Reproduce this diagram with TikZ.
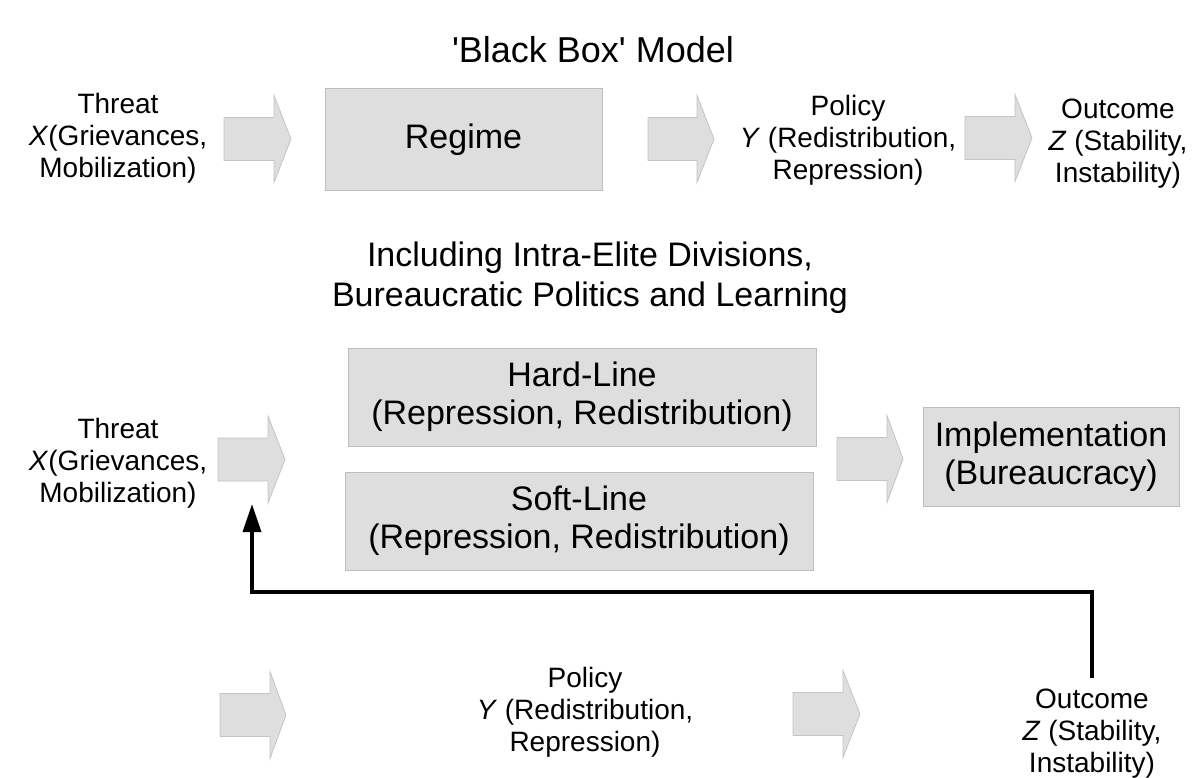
\documentclass[tikz,border=0pt]{standalone}
\usepackage{fontspec}
\setmainfont{Liberation Sans}[Ligatures=TeXOff]
\usetikzlibrary{arrows.meta}
\definecolor{boxfill}{HTML}{DEDEDE}
\definecolor{boxline}{HTML}{BDBDBD}
\definecolor{arrline}{HTML}{C4C4C4}
\newcommand\blockarrow[4]{%
  \draw[barrow] (#1,#4-21.5) -- (#2,#4-21.5) -- (#2,#4-43.5) -- (#3,#4)
    -- (#2,#4+43.5) -- (#2,#4+21.5) -- (#1,#4+21.5) -- cycle;}
\begin{document}
\begin{tikzpicture}[x=1pt,y=-1pt,
  box/.style={draw=boxline, fill=boxfill, line width=1pt, inner sep=0pt,
    align=center, font=\fontsize{34}{38}\selectfont},
  lbl/.style={inner sep=0pt, align=center, font=\fontsize{28}{32}\selectfont},
  ttl/.style={inner sep=0pt, align=center, font=\fontsize{34}{40}\selectfont},
  barrow/.style={draw=arrline, fill=boxfill, line width=0.8pt},
  feedback/.style={line width=3.5pt, -{Triangle[length=28pt,width=18pt]}}]
\useasboundingbox (0,0) rectangle (1196,778);
% titles
\node[ttl, font=\fontsize{36}{40}\selectfont] (title) at (593,50) {'Black Box' Model};
\node[ttl] (sub) at (590,278) {Including Intra-Elite Divisions,\\Bureaucratic Politics and Learning};
% top row
\node[lbl] (threat1) at (118,138) {Threat\\\textit{X}(Grievances,\\Mobilization)};
\node[box, minimum width=277pt, minimum height=102pt] (regime) at (463.5,140) {Regime};
\node[lbl] (policy1) at (848,140) {Policy\\\textit{Y} (Redistribution,\\Repression)};
\node[lbl] (outcome1) at (1118,144) {Outcome\\\textit{Z} (Stability,\\Instability)};
\blockarrow{224}{274}{291}{139}
\blockarrow{648}{697}{714}{139}
\blockarrow{965}{1015}{1032}{138}
% middle
\node[lbl] (threat2) at (118,463) {Threat\\\textit{X}(Grievances,\\Mobilization)};
\node[box, minimum width=468pt, minimum height=98pt] (hard) at (582,397) {Hard-Line\\(Repression, Redistribution)};
\node[box, minimum width=468pt, minimum height=98pt] (soft) at (579,521) {Soft-Line\\(Repression, Redistribution)};
\node[box, minimum width=256pt, minimum height=99pt] (impl) at (1051,456.5) {Implementation\\(Bureaucracy)};
\blockarrow{218}{268}{285}{459.5}
\blockarrow{837}{887}{903}{459}
% bottom
\node[lbl] (policy2) at (585,712) {Policy\\\textit{Y} (Redistribution,\\Repression)};
\node[lbl] (outcome2) at (1092,734) {Outcome\\\textit{Z} (Stability,\\Instability)};
\blockarrow{220}{270}{286}{715}
\blockarrow{793}{843}{860}{714}
% feedback
\coordinate (fbs) at (1092,678);
\coordinate (fbe) at (252,504);
\draw[feedback] (fbs) -- ++(0,-86) -| (fbe);
\end{tikzpicture}
\end{document}
